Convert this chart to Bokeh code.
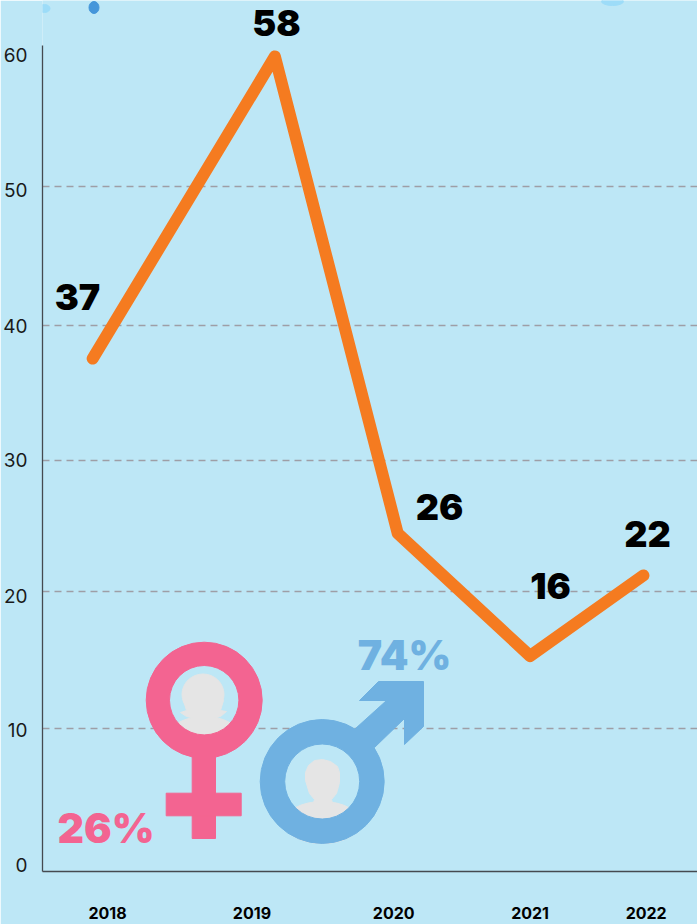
from bokeh.plotting import figure
from bokeh.embed import file_html
from bokeh.resources import INLINE
from bokeh.core.properties import value
from bokeh.models import FixedTicker

# ---- data ----
years = ["2018", "2019", "2020", "2021", "2022"]
year_tick_positions = [2018.0, 2019.07, 2020.12, 2021.13, 2021.99]
line_x = [2017.89, 2019.24, 2020.15, 2021.13, 2021.97]
line_y = [37.3, 59.6, 24.4, 15.35, 21.3]
point_labels = ["37", "58", "26", "16", "22"]
y_labels = ["0", "10", "20", "30", "40", "50", "60"]
y_label_positions = [-0.04, 9.92, 19.81, 29.78, 39.73, 49.71, 59.74]
grid_ticks = [10.0, 20.11, 29.78, 39.74, 50.0]

BG = "#BDE7F6"
ORANGE = "#F57B20"
PINK = "#F36491"
BLUE = "#6FB1E1"
GREY = "#E5E5E5"
HEAVY = value("Inter Black, Inter")

W, H = 697, 924
LEFT, BOTTOM = 42, 871
X0_PX, X_STEP = 107.0, 135.0
Y0_PX, Y_STEP = 863.5, 13.55


def X(px):
    return 2018 + (px - X0_PX) / X_STEP


def Y(py):
    return (Y0_PX - py) / Y_STEP


def XS(values):
    return [X(v) for v in values]


def YS(values):
    return [Y(v) for v in values]


p = figure(
    width=W, height=H, output_backend="svg", toolbar_location=None,
    x_range=(X(LEFT), X(W)), y_range=(Y(BOTTOM), Y(0)),
    min_border_left=LEFT, min_border_right=0, min_border_top=0,
    min_border_bottom=H - BOTTOM,
    background_fill_color=BG, border_fill_color=BG, outline_line_color=None,
)
p.styles = {"position": "absolute", "left": "0px", "top": "0px"}

# axes
AX = "#454A50"
p.xaxis.ticker = FixedTicker(ticks=year_tick_positions)
p.xaxis.major_label_overrides = dict(zip(year_tick_positions, years))
p.xaxis.axis_line_color = AX
p.xaxis.axis_line_width = 1.3
p.xaxis.major_tick_line_color = None
p.xaxis.minor_tick_line_color = None
p.xaxis.major_label_standoff = 29
p.xaxis.major_label_text_font = "Inter"
p.xaxis.major_label_text_font_style = "bold"
p.xaxis.major_label_text_font_size = "16px"
p.xaxis.major_label_text_color = "#000000"

p.yaxis.ticker = FixedTicker(ticks=y_label_positions)
p.yaxis.major_label_overrides = dict(zip(y_label_positions, y_labels))
p.yaxis.bounds = (Y(BOTTOM), Y(45))
p.yaxis.axis_line_color = AX
p.yaxis.axis_line_width = 1.3
p.yaxis.major_tick_line_color = None
p.yaxis.minor_tick_line_color = None
p.yaxis.major_label_standoff = 9
p.yaxis.major_label_text_font = "Inter"
p.yaxis.major_label_text_font_size = "19px"
p.yaxis.major_label_text_color = "#1A1A1A"

p.xgrid.visible = False
p.ygrid.ticker = FixedTicker(ticks=grid_ticks)
p.ygrid.grid_line_color = "#9E9EA6"
p.ygrid.grid_line_dash = "7 5"
p.ygrid.grid_line_width = 1.5

# page specks
p.ellipse([X(93.5)], [Y(7)], width=10, height=12, width_units="screen", height_units="screen", color="#4596DA")
p.ellipse([X(44)], [Y(8)], width=11, height=8, width_units="screen", height_units="screen", color="#9DDCF8")
p.ellipse([X(612)], [Y(1)], width=22, height=8, width_units="screen", height_units="screen", color="#9DDCF8")

# main line
p.line(line_x, line_y, line_color=ORANGE, line_width=12, line_join="round", line_cap="round")

# value labels
label_x = XS([77, 276, 439, 550, 647])
label_y = YS([296, 22, 506, 585, 533])
p.text(label_x, label_y, text=point_labels, text_font=HEAVY, text_font_style="bold",
       text_font_size="36px", text_align="center", text_baseline="middle", text_color="#000000")

# female symbol
FX, FY = 203.7, 699.7
p.ellipse([X(FX)], [Y(735)], width=70, height=38, width_units="screen", height_units="screen", color=GREY)
p.ellipse([X(202.5)], [Y(694)], width=42, height=41, width_units="screen", height_units="screen", color=GREY)
p.patch(XS([183, 186, 180, 186, 195, 212, 220, 226, 220, 223]),
        YS([700, 710, 712, 716, 718, 718, 716, 711, 710, 700]), color=GREY)
p.annulus([X(FX)], [Y(FY)], inner_radius=34.7, outer_radius=58, inner_radius_units="screen",
          outer_radius_units="screen", color=PINK)
p.quad(left=[X(191.7)], right=[X(215)], top=[Y(752)], bottom=[Y(838)], color=PINK)
p.quad(left=[X(165.7)], right=[X(240.7)], top=[Y(792.7)], bottom=[Y(815.3)], color=PINK)

# male symbol
MX, MY = 321.7, 781
p.ellipse([X(MX)], [Y(822)], width=76, height=42, width_units="screen", height_units="screen", color=GREY)
p.patch(XS([305, 305, 308, 314, 322, 330, 337, 339, 339, 336, 331, 332, 313, 314, 309]),
        YS([780, 772, 765, 760, 759, 761, 766, 772, 782, 793, 799, 803, 803, 799, 793]), color=GREY)
p.annulus([X(MX)], [Y(MY)], inner_radius=37.5, outer_radius=62, inner_radius_units="screen",
          outer_radius_units="screen", color=BLUE)
p.patch(XS([355, 386, 359, 378, 423, 423, 404, 404, 374]),
        YS([728, 700, 700, 681, 681, 726, 744, 718, 747]), color=BLUE)

# percentages
p.text([X(105.5)], [Y(827)], text=["26%"], text_font=HEAVY, text_font_style="bold",
       text_font_size="41px", text_align="center", text_baseline="middle", text_color=PINK)
p.text([X(404)], [Y(654)], text=["74%"], text_font=HEAVY, text_font_style="bold",
       text_font_size="41px", text_align="center", text_baseline="middle", text_color=BLUE)

open("out.html", "w").write(file_html(p, INLINE))
